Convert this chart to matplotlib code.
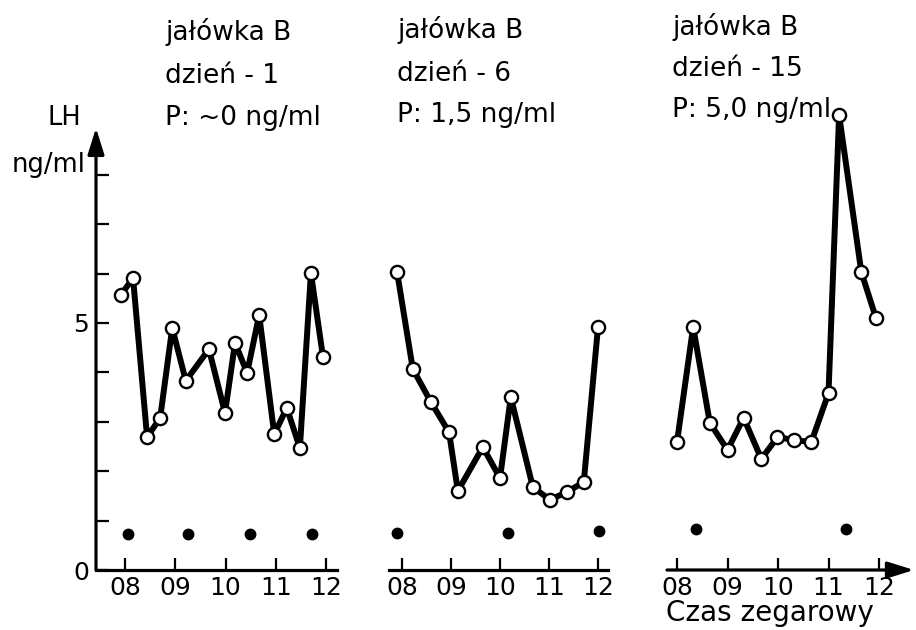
import matplotlib
matplotlib.use('Agg')
import matplotlib.pyplot as plt

plt.rcParams['font.family'] = ['DejaVu Sans']

# LH (ng/ml) w kolejnych pobraniach, czas w godzinach zegarowych
t1 = [7.92, 8.16, 8.44, 8.70, 8.94, 9.21, 9.67, 9.99, 10.19, 10.43, 10.67, 10.97, 11.22, 11.48, 11.70, 11.94]
lh1 = [5.57, 5.91, 2.69, 3.08, 4.90, 3.83, 4.47, 3.18, 4.60, 3.99, 5.16, 2.75, 3.28, 2.47, 6.01, 4.31]
kropki1_t = [8.06, 9.25, 10.49, 11.72]
kropki1_y = [0.73, 0.73, 0.73, 0.73]

t2 = [7.90, 8.22, 8.59, 8.96, 9.14, 9.65, 10.00, 10.22, 10.67, 11.02, 11.37, 11.71, 12.00]
lh2 = [6.03, 4.07, 3.40, 2.79, 1.60, 2.49, 1.86, 3.50, 1.68, 1.42, 1.58, 1.78, 4.92]
kropki2_t = [7.90, 10.16, 12.02]
kropki2_y = [0.75, 0.75, 0.79]

t3 = [8.00, 8.32, 8.65, 9.00, 9.32, 9.67, 9.99, 10.32, 10.66, 11.00, 11.21, 11.65, 11.94]
lh3 = [2.59, 4.92, 2.98, 2.43, 3.08, 2.25, 2.69, 2.63, 2.59, 3.58, 9.21, 6.03, 5.10]
kropki3_t = [8.37, 11.35]
kropki3_y = [0.83, 0.83]

godziny = [8, 9, 10, 11, 12]
godziny_txt = ['08', '09', '10', '11', '12']

opisy = [['jałówka B', 'dzień - 1', 'P: ~0 ng/ml'],
         ['jałówka B', 'dzień - 6', 'P: 1,5 ng/ml'],
         ['jałówka B', 'dzień - 15', 'P: 5,0 ng/ml']]

W, H = 916, 630
fig = plt.figure(figsize=(W / 100, H / 100), dpi=100)

Y0 = 570      # piksel zera osi y
PX_Y = 49.4   # pikseli na 1 ng/ml
YMAX = 9.5


def panel(lewo, prawo, x08, px_h):
    ax = fig.add_axes([lewo / W, (H - Y0) / H, (prawo - lewo) / W, YMAX * PX_Y / H])
    ax.set_xlim(8 + (lewo - x08) / px_h, 8 + (prawo - x08) / px_h)
    ax.set_ylim(0, YMAX)
    ax.patch.set_alpha(0)
    for s in ['top', 'right', 'left']:
        ax.spines[s].set_visible(False)
    ax.spines['bottom'].set_linewidth(2.3)
    ax.set_xticks(godziny)
    ax.set_xticklabels(godziny_txt)
    ax.tick_params(axis='x', direction='in', length=9, width=1.6, pad=4, labelsize=18)
    ax.set_yticks([])
    return ax


def seria(ax, t, y, kt, ky):
    ax.plot(t, y, color='black', lw=4.3, marker='o', ms=9.5, mfc='white',
            mec='black', mew=1.7, clip_on=False, zorder=3)
    ax.plot(kt, ky, 'o', color='black', ms=7.5, clip_on=False, zorder=3)


ax1 = panel(96, 337, 125, 50.25)
ax2 = panel(389, 608, 402, 49.0)
ax3 = panel(667, 914, 677, 50.5)

seria(ax1, t1, lh1, kropki1_t, kropki1_y)
seria(ax2, t2, lh2, kropki2_t, kropki2_y)
seria(ax3, t3, lh3, kropki3_t, kropki3_y)

# oś y ze strzałką
ax1.set_yticks(range(9))
ax1.set_yticklabels(['0', '', '', '', '', '5', '', '', ''])
ax1.tick_params(axis='y', direction='in', length=9, width=1.6, pad=5, labelsize=18)
ax1.annotate('', xy=(0, 8.95), xycoords=('axes fraction', 'data'),
             xytext=(0, 0), textcoords=('axes fraction', 'data'),
             arrowprops=dict(arrowstyle='-|>,head_length=0.8,head_width=0.25',
                             mutation_scale=20, lw=2.3, color='black',
                             shrinkA=0, shrinkB=0))

# oś x ostatniego panelu ze strzałką
ax3.spines['bottom'].set_visible(False)
ax3.annotate('', xy=(1, 0), xycoords='axes fraction', xytext=(0, 0),
             arrowprops=dict(arrowstyle='-|>,head_length=0.8,head_width=0.25',
                             mutation_scale=20, lw=2.3, color='black',
                             shrinkA=0, shrinkB=0))

# opisy nad panelami (linie bazowe w pikselach)
pozycje = [(165, [40, 83, 125]), (397, [38, 81, 122]), (672, [35, 76, 117])]
for (x, ys), linie in zip(pozycje, opisy):
    for y, s in zip(ys, linie):
        fig.text(x / W, 1 - y / H, s, ha='left', va='baseline', fontsize=19)

fig.text(81 / W, 1 - 118 / H, 'LH', ha='right', va='center', fontsize=18.5)
fig.text(85 / W, 1 - 165 / H, 'ng/ml', ha='right', va='center', fontsize=18.5)
fig.text(666 / W, 1 - 621 / H, 'Czas zegarowy', ha='left', va='baseline', fontsize=20)

fig.savefig('out.png', dpi=100)
